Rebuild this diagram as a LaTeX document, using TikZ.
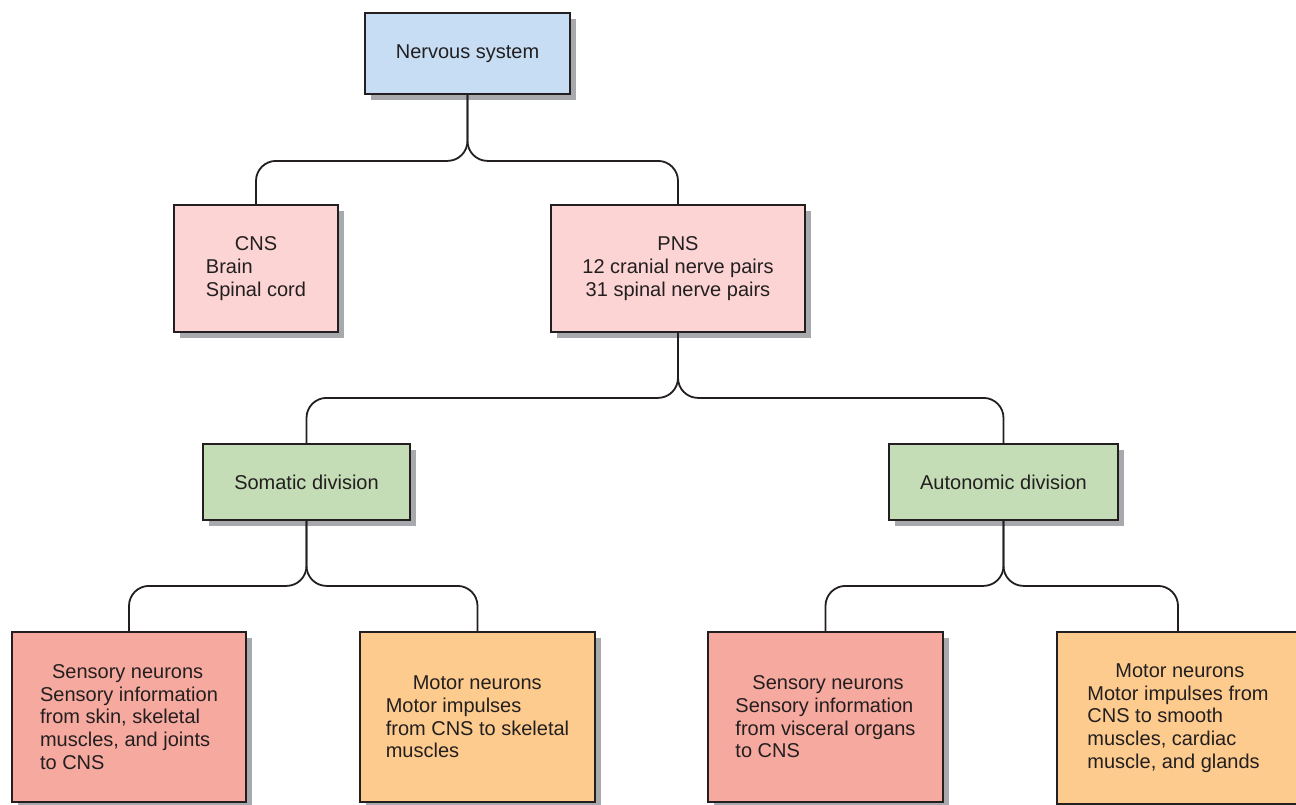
\documentclass[tikz,border=0pt]{standalone}
\usepackage{fontspec}
\setmainfont{Liberation Sans}
\usetikzlibrary{shadows}
\definecolor{linecol}{HTML}{231F20}
\definecolor{shadowcol}{HTML}{A7A9AC}
\definecolor{bluebox}{HTML}{C6DDF3}
\definecolor{pinkbox}{HTML}{FBD4D3}
\definecolor{greenbox}{HTML}{C4DDB6}
\definecolor{salmonbox}{HTML}{F6A99E}
\definecolor{orangebox}{HTML}{FDCB8D}
\tikzset{
  box/.style={draw=linecol, line width=1.8pt, inner sep=0pt, text=linecol,
    general shadow={fill=shadowcol, shadow xshift=6pt, shadow yshift=-6pt},
    font=\fontsize{20}{22.7}\selectfont},
  conn/.style={draw=linecol, line width=1.8pt, rounded corners=20pt}
}
\begin{document}
\begin{tikzpicture}[x=1pt,y=-1pt]
\useasboundingbox (0,0) rectangle (1296,804);
\fill[white] (0,0) rectangle (1296,804);

\node[box, fill=bluebox, minimum width=205pt, minimum height=81pt] (ns) at (467.5,53.5) {Nervous system};

\node[box, fill=pinkbox, minimum width=164pt, minimum height=127pt, align=left] (cns) at (256,268.5)
  {\hspace*{29pt}CNS\\Brain\\Spinal cord};
\node[box, fill=pinkbox, minimum width=254pt, minimum height=127pt, align=center] (pns) at (678,268.5)
  {PNS\\12 cranial nerve pairs\\31 spinal nerve pairs};

\node[box, fill=greenbox, minimum width=207pt, minimum height=76pt] (som) at (306.5,482) {Somatic division};
\node[box, fill=greenbox, minimum width=229pt, minimum height=76pt] (aut) at (1003.5,482) {Autonomic division};

\node[box, fill=salmonbox, minimum width=234pt, minimum height=170pt, align=left] (s1) at (129,717)
  {\hspace*{12pt}Sensory neurons\\Sensory information\\from skin, skeletal\\muscles, and joints\\to CNS};
\node[box, fill=orangebox, minimum width=235pt, minimum height=170pt, align=left] (m1) at (477.5,717)
  {\hspace*{27pt}Motor neurons\\Motor impulses\\from CNS to skeletal\\muscles};
\node[box, fill=salmonbox, minimum width=235pt, minimum height=170pt, align=left] (s2) at (825.5,717)
  {\hspace*{17pt}Sensory neurons\\Sensory information\\from visceral organs\\to CNS};
\node[box, fill=orangebox, minimum width=242pt, minimum height=172pt, align=left] (m2) at (1178,718)
  {\hspace*{28pt}Motor neurons\\Motor impulses from\\CNS to smooth\\muscles, cardiac\\muscle, and glands};

\draw[conn] (ns.south) -- ++(0,66) -| (cns.north);
\draw[conn] (ns.south) -- ++(0,66) -| (pns.north);
\draw[conn] (pns.south) -- ++(0,65) -| (som.north);
\draw[conn] (pns.south) -- ++(0,65) -| (aut.north);
\draw[conn] (som.south) -- ++(0,65) -| (s1.north);
\draw[conn] (som.south) -- ++(0,65) -| (m1.north);
\draw[conn] (aut.south) -- ++(0,65) -| (s2.north);
\draw[conn] (aut.south) -- ++(0,65) -| (m2.north);
\end{tikzpicture}
\end{document}
